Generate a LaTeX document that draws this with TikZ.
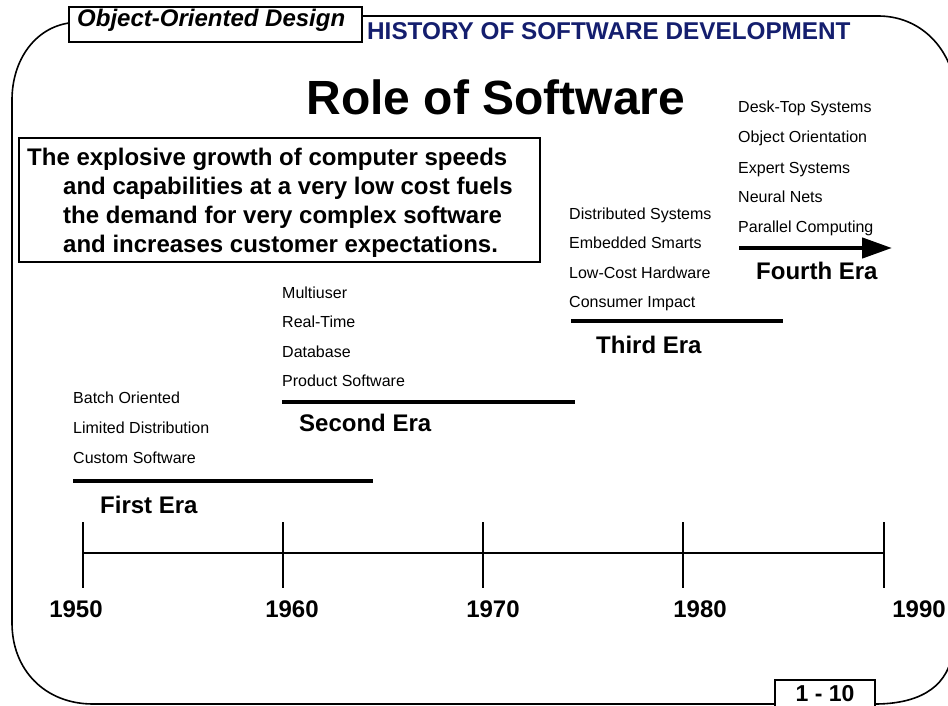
\documentclass[tikz,border=0pt]{standalone}
\usepackage{fontspec}
\setmainfont{Liberation Sans}
\usetikzlibrary{arrows.meta}
\definecolor{histnavy}{RGB}{20,30,110}

\begin{document}
\begin{tikzpicture}[x = 1pt, y = -1pt,
  item/.style = {anchor = base west, inner sep = 0pt, font = \fontsize{16}{16}\selectfont},
  era/.style = {anchor = base west, inner sep = 0pt, font = \fontsize{24}{24}\selectfont\bfseries},
  year/.style = {anchor = base, inner sep = 0pt, font = \fontsize{24}{24}\selectfont\bfseries},
  bar/.style = {line width = 4.5pt},
  frame/.style = {line width = 1.6pt},
  axis/.style = {line width = 1.8pt}]
\useasboundingbox (0,0) rectangle (948,706);
\draw[frame] (362,16) -- (878,16) .. controls (915,16) and (942,40) .. (952,72) -- (952,655) .. controls (946,690) and (915,704) .. (875,704);
\draw[frame] (775,704) -- (93,704) .. controls (45,704) and (12,670) .. (12,623) -- (12,100) .. controls (12,60) and (35,28) .. (69,23);
\draw[frame] (69,7) rectangle (362,42);
\node[anchor = base west, inner sep = 0pt, font = \fontsize{24}{24}\selectfont\bfseries\itshape] (course) at (77,27) {Object-Oriented Design};
\node[anchor = base west, inner sep = 0pt, text = histnavy, font = \fontsize{24.3}{24.3}\selectfont\bfseries] (chapter) at (367,40) {HISTORY OF SOFTWARE DEVELOPMENT};
\node[anchor = base, inner sep = 0pt, font = \fontsize{48}{48}\selectfont\bfseries] (title) at (496,115) {Role of Software};
\draw[frame] (19,138) rectangle (540,262);
\node[anchor = north west, inner sep = 0pt, align = left, font = \fontsize{24}{29}\selectfont\bfseries] (claim) at (27,147.5) {The explosive growth of computer speeds\\
\hspace*{36pt}and capabilities at a very low cost fuels\\
\hspace*{36pt}the demand for very complex software\\
\hspace*{36pt}and increases customer expectations.};
\node[item] (a1) at (738,113) {Desk-Top Systems};
\node[item] (a2) at (738,143) {Object Orientation};
\node[item] (a3) at (738,173) {Expert Systems};
\node[item] (a4) at (738,202) {Neural Nets};
\node[item] (a5) at (738,232) {Parallel Computing};
\draw[bar, -{Triangle[length = 30pt, width = 20pt]}] (739,248) -- (892,248);
\node[era] (era4) at (756,279) {Fourth Era};
\node[item] (b1) at (569,219) {Distributed Systems};
\node[item] (b2) at (569,248) {Embedded Smarts};
\node[item] (b3) at (569,278) {Low-Cost Hardware};
\node[item] (b4) at (569,307) {Consumer Impact};
\draw[bar] (571,321) -- (783,321);
\node[era] (era3) at (596,353) {Third Era};
\node[item] (c1) at (282,298) {Multiuser};
\node[item] (c2) at (282,327) {Real-Time};
\node[item] (c3) at (282,357) {Database};
\node[item] (c4) at (282,386) {Product Software};
\draw[bar] (282,402) -- (575,402);
\node[era] (era2) at (299,431) {Second Era};
\node[item] (d1) at (73,403) {Batch Oriented};
\node[item] (d2) at (73,433) {Limited Distribution};
\node[item] (d3) at (73,463) {Custom Software};
\draw[bar] (73,481) -- (373,481);
\node[era] (era1) at (100,513) {First Era};
\draw[axis] (83,553) -- (884,553);
\draw[axis] (83,522) -- (83,588);
\draw[axis] (283,522) -- (283,588);
\draw[axis] (483,522) -- (483,588);
\draw[axis] (683,522) -- (683,588);
\draw[axis] (884,522) -- (884,588);
\node[year] (y1950) at (76,617) {1950};
\node[year] (y1960) at (292,617) {1960};
\node[year] (y1970) at (493,617) {1970};
\node[year] (y1980) at (700,617) {1980};
\node[year] (y1990) at (919,617) {1990};
\draw[frame] (775,712) -- (775,680) -- (875,680) -- (875,712);
\node[anchor = base, inner sep = 0pt, font = \fontsize{23}{23}\selectfont\bfseries] (page) at (825,701) {1 - 10};
\end{tikzpicture}
\end{document}
